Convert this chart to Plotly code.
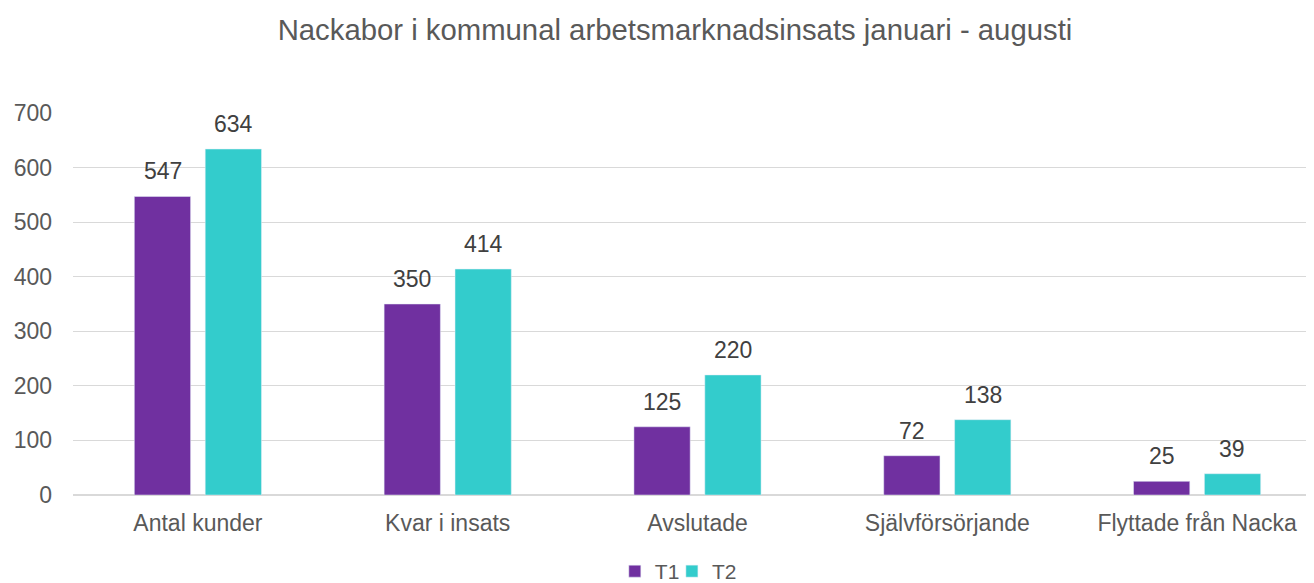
import plotly.graph_objects as go

categories = ["Antal kunder", "Kvar i insats", "Avslutade", "Självförsörjande", "Flyttade från Nacka"]
t1 = [547, 350, 125, 72, 25]
t2 = [634, 414, 220, 138, 39]
y_ticks = [0, 100, 200, 300, 400, 500, 600, 700]

font_fam = "Liberation Sans, Arial, sans-serif"
grey = "#595959"
label_color = "#404040"

fig = go.Figure()
fig.add_trace(go.Bar(name="T1", x=categories, y=t1, marker_color="#7030A0", legend="legend"))
fig.add_trace(go.Bar(name="T2", x=categories, y=t2, marker_color="#33CCCC", legend="legend2"))

# value labels above bars
annotations = []
for series, shift in ((t1, -35.3), (t2, 35.3)):
    for c, v in zip(categories, series):
        annotations.append(dict(x=c, y=v, xref="x", yref="y", text=str(v), showarrow=False,
                                xshift=shift, yshift=25, yanchor="middle",
                                font=dict(size=23, color=label_color, family=font_fam)))

legend_style = dict(orientation="h", xanchor="left", y=-0.1466, yanchor="top",
                    font=dict(size=21, color=grey), itemwidth=30, bgcolor="rgba(0,0,0,0)")

fig.update_layout(
    width=1314, height=583,
    barmode="group", bargap=0.4324, bargroupgap=0.2065,
    plot_bgcolor="white", paper_bgcolor="white",
    margin=dict(l=65, r=0, t=105, b=96, autoexpand=False),
    title=dict(text="Nackabor i kommunal arbetsmarknadsinsats januari - augusti",
               x=0.5076, xanchor="center", yref="container", y=0.962, yanchor="middle",
               font=dict(size=29.3, color=grey, family=font_fam)),
    font=dict(family=font_fam, color=grey, size=23),
    legend=dict(x=0.4338, **legend_style),
    legend2=dict(x=0.4795, **legend_style),
    yaxis=dict(range=[0, 700], tickvals=y_ticks, showgrid=True, gridcolor="#d9d9d9",
               gridwidth=1, zeroline=True, zerolinecolor="#d9d9d9", showline=False,
               tickfont=dict(size=23, color=grey), ticks="", ticklabelstandoff=20,
               automargin=False),
    xaxis=dict(showline=True, linecolor="#d9d9d9", ticks="",
               tickfont=dict(size=23, color=grey), ticklabelstandoff=7, automargin=False),
    annotations=annotations,
    showlegend=True,
)

fig.write_html("out.html")
